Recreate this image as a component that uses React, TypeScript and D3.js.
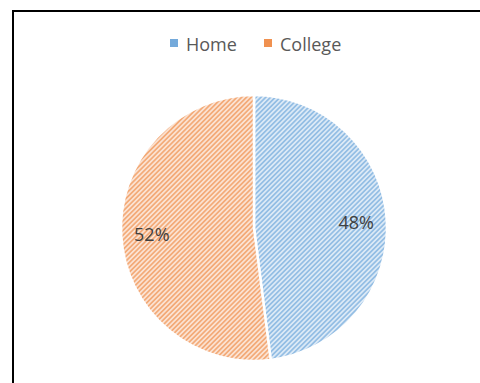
import React from "react";
import * as d3 from "d3";

const categories = ["Home", "College"];
const values = [48, 52];
const colors = ["#5B9BD5", "#ED7D31"];

export default function App() {
  const W = 480, H = 383;
  const cx = 254, cy = 228, r = 133;
  const pie = d3.pie<number>().sort(null).value((d) => d)(values);
  const arc = d3.arc<d3.PieArcDatum<number>>().innerRadius(0).outerRadius(r);
  const labelArc = d3.arc<d3.PieArcDatum<number>>().innerRadius(r * 0.77).outerRadius(r * 0.77);
  const total = d3.sum(values);
  const font = "'Open Sans', 'Noto Sans', sans-serif";
  const legendItems = [
    { x: 170, tx: 186 },
    { x: 264, tx: 280 },
  ];
  const P = 3.4;
  const tint = (c: string, t: number) => d3.interpolateRgb("#ffffff", c)(t);
  return (
    <svg width={W} height={H} style={{ position: "absolute", left: 0, top: 0 }}>
      <defs>
        {categories.map((c, i) => (
          <pattern key={c} id={`hatch${i}`} width={P} height={P} patternUnits="userSpaceOnUse" patternTransform="rotate(45)">
            <rect width={P} height={P} fill={tint(colors[i], 0.22)} />
            <rect width={P / 2} height={P} fill={tint(colors[i], 0.65)} />
          </pattern>
        ))}
      </defs>
      <rect x={0} y={0} width={W} height={H} fill="#fff" />
      <rect x={13} y={11} width={700} height={700} fill="none" stroke="#000" strokeWidth={2} />
      <g transform={`translate(${cx},${cy})`}>
        {pie.map((d, i) => (
          <path key={i} d={arc(d) || ""} fill={`url(#hatch${i})`} stroke="#fff" strokeWidth={2.5} />
        ))}
        {pie.map((d, i) => {
          const [lx, ly] = labelArc.centroid(d);
          return (
            <text key={"l" + i} x={lx} y={ly} textAnchor="middle" dominantBaseline="central" fontFamily={font} fontSize={18} fill="#404040">
              {Math.round((d.data / total) * 100)}%
            </text>
          );
        })}
      </g>
      {categories.map((c, i) => (
        <g key={c}>
          <rect x={legendItems[i].x} y={39} width={8} height={8} fill={tint(colors[i], 0.85)} />
          <text x={legendItems[i].tx} y={44} dominantBaseline="central" fontFamily={font} fontSize={18} fill="#595959">
            {c}
          </text>
        </g>
      ))}
    </svg>
  );
}
